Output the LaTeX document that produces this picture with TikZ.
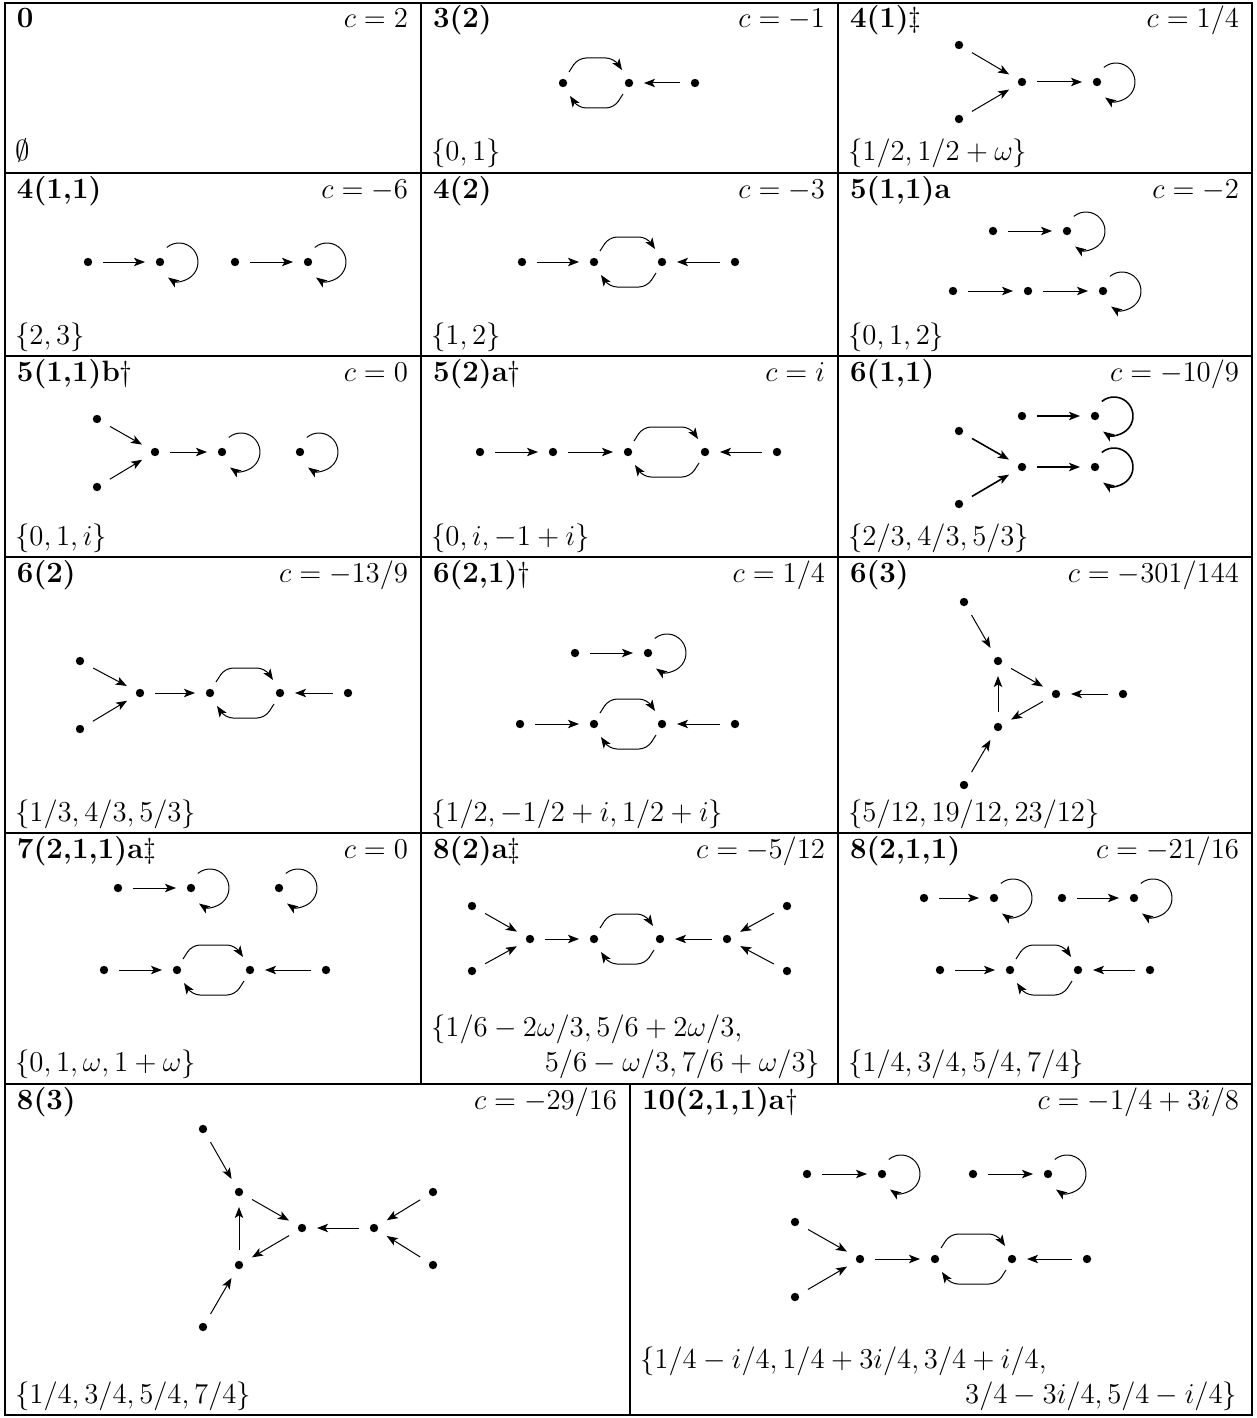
\documentclass[tikz,border=0pt]{standalone}
\usetikzlibrary{arrows.meta,calc}
\newcommand\mydot[2]{\coordinate (#1) at (#2); \fill (#1) circle (2.1pt);}
\newcommand\myloop[1]{\draw[lp] ($(#1)+(9.5pt,0pt)+(130:9.5pt)$) arc[start angle=130,end angle=-125,radius=9.5pt];}
\newcommand\mycyc[2]{%
  \draw[cyc] ($(#1)+(3pt,5.5pt)$) -- ($(#1)+(7.5pt,12.5pt)$) -- ($(#2)+(-7.5pt,12.5pt)$) -- ($(#2)+(-3.5pt,6.5pt)$);
  \draw[cyc] ($(#2)+(-3pt,-5.5pt)$) -- ($(#2)+(-7.5pt,-12.5pt)$) -- ($(#1)+(7.5pt,-12.5pt)$) -- ($(#1)+(3.5pt,-6.5pt)$);}
\newcommand\myarr[2]{\draw[arr] (#1) -- (#2);}
\begin{document}
\begin{tikzpicture}[x=0.5pt,y=-0.5pt,
  every node/.style={inner sep=0pt, outer sep=0pt, font=\fontsize{14.7}{17.6}\selectfont},
  ttl/.style={anchor=base west, font=\fontsize{14.7}{17.6}\selectfont\bfseries},
  cval/.style={anchor=base east},
  sw/.style={anchor=base west},
  se/.style={anchor=base east},
  grid/.style={line width=0.6pt},
  tip/.style={-{Stealth[length=5.5pt,width=4.2pt,inset=1.3pt]}},
  arr/.style={line width=0.5pt, tip, shorten >=7.5pt, shorten <=7.5pt},
  cyc/.style={line width=0.5pt, tip, rounded corners=4pt},
  lp/.style={line width=0.5pt, tip},
]
\useasboundingbox (0,0) rectangle (1257,1418);
% grid
\draw[grid] (5,3) rectangle (1252,1415);
\foreach \yy in {173,356,557,833,1084} \draw[grid] (5,\yy) -- (1252,\yy);
\draw[grid] (421,3) -- (421,1084);
\draw[grid] (838,3) -- (838,1084);
\draw[grid] (630,1084) -- (630,1415);

% ---------- row 1
\node[ttl] (t1) at (17,28) {0};
\node[cval] (c1) at (408,28) {$c=2$};
\node[sw] (s1) at (15,161) {$\emptyset$};

\node[ttl] (t2) at (433,28) {3(2)};
\node[cval] (c2) at (825,28) {$c=-1$};
\node[sw] (s2) at (431,161) {$\{0,1\}$};
\mydot{b1}{563,83}\mydot{b2}{629,83}\mydot{b3}{695,83}
\mycyc{b1}{b2}\myarr{b3}{b2}

\node[ttl] (t3) at (850,28) {4(1)$\ddagger$};
\node[cval] (c3) at (1239,28) {$c=1/4$};
\node[sw] (s3) at (848,161) {$\{1/2,1/2+\omega\}$};
\mydot{c1}{959,45}\mydot{c2}{959,119}\mydot{c3}{1022,82}\mydot{c4}{1097,82}
\myarr{c1}{c3}\myarr{c2}{c3}\myarr{c3}{c4}\myloop{c4}

% ---------- row 2
\node[ttl] (t4) at (17,198) {4(1,1)};
\node[cval] (c4t) at (408,198) {$c=-6$};
\node[sw] (s4) at (15,344) {$\{2,3\}$};
\mydot{d1}{88,262}\mydot{d2}{160,262}\mydot{d3}{235,262}\mydot{d4}{308,262}
\myarr{d1}{d2}\myloop{d2}\myarr{d3}{d4}\myloop{d4}

\node[ttl] (t5) at (433,198) {4(2)};
\node[cval] (c5) at (825,198) {$c=-3$};
\node[sw] (s5) at (431,344) {$\{1,2\}$};
\mydot{e1}{522,262}\mydot{e2}{594,262}\mydot{e3}{662,262}\mydot{e4}{735,262}
\myarr{e1}{e2}\mycyc{e2}{e3}\myarr{e4}{e3}

\node[ttl] (t6) at (850,198) {5(1,1)a};
\node[cval] (c6) at (1239,198) {$c=-2$};
\node[sw] (s6) at (848,344) {$\{0,1,2\}$};
\mydot{f1}{993,231}\mydot{f2}{1067,231}\mydot{f3}{953,291}\mydot{f4}{1028,291}\mydot{f5}{1103,291}
\myarr{f1}{f2}\myloop{f2}\myarr{f3}{f4}\myarr{f4}{f5}\myloop{f5}

% ---------- row 3
\node[ttl] (t7) at (17,381) {5(1,1)b$\dagger$};
\node[cval] (c7) at (408,381) {$c=0$};
\node[sw] (s7) at (15,545) {$\{0,1,i\}$};
\mydot{g1}{97,419}\mydot{g2}{97,487}\mydot{g3}{155,452}\mydot{g4}{222,452}\mydot{g5}{300,452}
\myarr{g1}{g3}\myarr{g2}{g3}\myarr{g3}{g4}\myloop{g4}\myloop{g5}

\node[ttl] (t8) at (433,381) {5(2)a$\dagger$};
\node[cval] (c8) at (825,381) {$c=i$};
\node[sw] (s8) at (431,545) {$\{0,i,-1+i\}$};
\mydot{h1}{480,452}\mydot{h2}{553,452}\mydot{h3}{628,452}\mydot{h4}{705,452}\mydot{h5}{777,452}
\myarr{h1}{h2}\myarr{h2}{h3}\mycyc{h3}{h4}\myarr{h5}{h4}

\node[ttl] (t9) at (850,381) {6(1,1)};
\node[cval] (c9) at (1239,381) {$c=-10/9$};
\node[sw] (s9) at (848,545) {$\{2/3,4/3,5/3\}$};
\begin{scope}[arr/.append style={line width=0.8pt}, lp/.append style={line width=0.8pt}]
\mydot{i1}{1022,416}\mydot{i2}{1095,416}\mydot{i3}{959,431}\mydot{i4}{959,504}\mydot{i5}{1022,467}\mydot{i6}{1095,467}
\myarr{i1}{i2}\myloop{i2}\myarr{i3}{i5}\myarr{i4}{i5}\myarr{i5}{i6}\myloop{i6}
\end{scope}

% ---------- row 4
\node[ttl] (t10) at (17,582) {6(2)};
\node[cval] (c10) at (408,582) {$c=-13/9$};
\node[sw] (s10) at (15,821) {$\{1/3,4/3,5/3\}$};
\mydot{j1}{80,661}\mydot{j2}{80,729}\mydot{j3}{140,693}\mydot{j4}{210,693}\mydot{j5}{280,693}\mydot{j6}{348,693}
\myarr{j1}{j3}\myarr{j2}{j3}\myarr{j3}{j4}\mycyc{j4}{j5}\myarr{j6}{j5}

\node[ttl] (t11) at (433,582) {6(2,1)$\dagger$};
\node[cval] (c11) at (825,582) {$c=1/4$};
\node[sw] (s11) at (431,821) {$\{1/2,-1/2+i,1/2+i\}$};
\mydot{k1}{575,653}\mydot{k2}{648,653}\mydot{k3}{520,724}\mydot{k4}{594,724}\mydot{k5}{662,724}\mydot{k6}{735,724}
\myarr{k1}{k2}\myloop{k2}\myarr{k3}{k4}\mycyc{k4}{k5}\myarr{k6}{k5}

\node[ttl] (t12) at (850,582) {6(3)};
\node[cval] (c12) at (1239,582) {$c=-301/144$};
\node[sw] (s12) at (848,821) {$\{5/12,19/12,23/12\}$};
\mydot{l1}{964,602}\mydot{l2}{998,661}\mydot{l3}{1056,694}\mydot{l4}{1123,694}\mydot{l5}{998,727}\mydot{l6}{964,785}
\myarr{l1}{l2}\myarr{l2}{l3}\myarr{l3}{l5}\myarr{l5}{l2}\myarr{l6}{l5}\myarr{l4}{l3}

% ---------- row 5
\node[ttl] (t13) at (17,858) {7(2,1,1)a$\ddagger$};
\node[cval] (c13) at (408,858) {$c=0$};
\node[sw] (s13) at (15,1071) {$\{0,1,\omega,1+\omega\}$};
\mydot{m1}{118,888}\mydot{m2}{191,888}\mydot{m3}{279,888}\mydot{m4}{104,970}\mydot{m5}{177,970}\mydot{m6}{250,970}\mydot{m7}{326,970}
\myarr{m1}{m2}\myloop{m2}\myloop{m3}\myarr{m4}{m5}\mycyc{m5}{m6}\myarr{m7}{m6}

\node[ttl] (t14) at (433,858) {8(2)a$\ddagger$};
\node[cval] (c14) at (825,858) {$c=-5/12$};
\node[sw] (s14a) at (431,1036) {$\{1/6-2\omega/3,5/6+2\omega/3,$};
\node[se] (s14b) at (820,1071) {$5/6-\omega/3,7/6+\omega/3\}$};
\mydot{n1}{472,906}\mydot{n2}{472,971}\mydot{n3}{530,939}\mydot{n4}{594,939}\mydot{n5}{660,939}\mydot{n6}{727,939}\mydot{n7}{787,906}\mydot{n8}{787,971}
\myarr{n1}{n3}\myarr{n2}{n3}\myarr{n3}{n4}\mycyc{n4}{n5}\myarr{n6}{n5}\myarr{n7}{n6}\myarr{n8}{n6}

\node[ttl] (t15) at (850,858) {8(2,1,1)};
\node[cval] (c15) at (1239,858) {$c=-21/16$};
\node[sw] (s15) at (848,1071) {$\{1/4,3/4,5/4,7/4\}$};
\mydot{o1}{924,898}\mydot{o2}{994,898}\mydot{o3}{1062,898}\mydot{o4}{1134,898}\mydot{o5}{940,970}\mydot{o6}{1010,970}\mydot{o7}{1078,970}\mydot{o8}{1150,970}
\myarr{o1}{o2}\myloop{o2}\myarr{o3}{o4}\myloop{o4}\myarr{o5}{o6}\mycyc{o6}{o7}\myarr{o8}{o7}

% ---------- row 6
\node[ttl] (t16) at (17,1109) {8(3)};
\node[cval] (c16) at (617,1109) {$c=-29/16$};
\node[sw] (s16) at (15,1403) {$\{1/4,3/4,5/4,7/4\}$};
\mydot{p1}{203,1129}\mydot{p2}{239,1192}\mydot{p3}{302,1228}\mydot{p4}{374,1228}\mydot{p5}{433,1192}\mydot{p6}{433,1265}\mydot{p7}{239,1265}\mydot{p8}{203,1327}
\myarr{p1}{p2}\myarr{p2}{p3}\myarr{p3}{p7}\myarr{p7}{p2}\myarr{p8}{p7}\myarr{p4}{p3}\myarr{p5}{p4}\myarr{p6}{p4}

\node[ttl] (t17) at (642,1109) {10(2,1,1)a$\dagger$};
\node[cval] (c17) at (1239,1109) {$c=-1/4+3i/8$};
\node[sw] (s17a) at (640,1368) {$\{1/4-i/4,1/4+3i/4,3/4+i/4,$};
\node[se] (s17b) at (1237,1403) {$3/4-3i/4,5/4-i/4\}$};
\mydot{q1}{807,1174}\mydot{q2}{882,1174}\mydot{q3}{973,1174}\mydot{q4}{1048,1174}\mydot{q5}{795,1222}\mydot{q6}{795,1297}\mydot{q7}{860,1259}\mydot{q8}{935,1259}\mydot{q9}{1012,1259}\mydot{q10}{1087,1259}
\myarr{q1}{q2}\myloop{q2}\myarr{q3}{q4}\myloop{q4}\myarr{q5}{q7}\myarr{q6}{q7}\myarr{q7}{q8}\mycyc{q8}{q9}\myarr{q10}{q9}
\end{tikzpicture}
\end{document}
